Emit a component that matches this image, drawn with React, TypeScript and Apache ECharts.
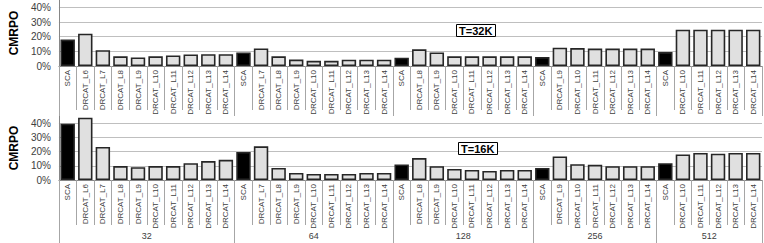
import React, { useEffect, useRef } from 'react';
import * as echarts from 'echarts';

// ---- data ----
const groups = ['32', '64', '128', '256', '512'];

const members32 = ['SCA', 'DRCAT_L6', 'DRCAT_L7', 'DRCAT_L8', 'DRCAT_L9', 'DRCAT_L10', 'DRCAT_L11', 'DRCAT_L12', 'DRCAT_L13', 'DRCAT_L14'];
const members64 = ['SCA', 'DRCAT_L7', 'DRCAT_L8', 'DRCAT_L9', 'DRCAT_L10', 'DRCAT_L11', 'DRCAT_L12', 'DRCAT_L13', 'DRCAT_L14'];
const members128 = ['SCA', 'DRCAT_L8', 'DRCAT_L9', 'DRCAT_L10', 'DRCAT_L11', 'DRCAT_L12', 'DRCAT_L13', 'DRCAT_L14'];
const members256 = ['SCA', 'DRCAT_L9', 'DRCAT_L10', 'DRCAT_L11', 'DRCAT_L12', 'DRCAT_L13', 'DRCAT_L14'];
const members512 = ['SCA', 'DRCAT_L10', 'DRCAT_L11', 'DRCAT_L12', 'DRCAT_L13', 'DRCAT_L14'];

// T=32K (percent)
const t32k_g32 = [18, 22, 10.8, 6.6, 5.8, 6.6, 7.2, 7.9, 8, 8];
const t32k_g64 = [9.2, 12, 6.6, 4.4, 3.5, 3.5, 4.3, 4.3, 4.3];
const t32k_g128 = [5.7, 11.4, 9.2, 6.6, 6.6, 6.6, 6.6, 6.6];
const t32k_g256 = [6.1, 12.5, 12.2, 11.9, 11.9, 11.9, 11.9];
const t32k_g512 = [9.5, 24.8, 24.8, 24.8, 24.8, 24.8];

// T=16K (percent)
const t16k_g32 = [39.6, 43.8, 23.2, 9.8, 9, 9.8, 9.8, 11.8, 13.3, 14.2];
const t16k_g64 = [19.7, 23.7, 8.5, 5, 4.3, 4.3, 4.3, 5, 5];
const t16k_g128 = [10.9, 15.4, 9.7, 7.8, 7.1, 6.4, 7.1, 7.1];
const t16k_g256 = [8.5, 16.6, 11.1, 10.7, 9.7, 9.7, 9.7];
const t16k_g512 = [11.8, 18, 19, 18.5, 19, 19];

const yMax = 45;
const yInterval = 10;
const panelTitles = ['T=32K', 'T=16K'];
const yName = 'CMRPO';

// ---- derived ----
const memberLists = [members32, members64, members128, members256, members512];
const categories = memberLists.flat();
const panels = [
  [t32k_g32, t32k_g64, t32k_g128, t32k_g256, t32k_g512].flat(),
  [t16k_g32, t16k_g64, t16k_g128, t16k_g256, t16k_g512].flat(),
];

// group tier: half-step category axis (2*N + 1 slots, boundaryGap false)
const sizes = memberLists.map((m) => m.length);
const starts: number[] = [];
sizes.reduce((acc, s) => {
  starts.push(acc);
  return acc + s;
}, 0);
const nCat = categories.length;
const groupSlots: string[] = new Array(2 * nCat + 1).fill('');
const boundarySlots = new Set<number>([0, 2 * nCat]);
groups.forEach((g, i) => {
  const s = starts[i];
  const e = s + sizes[i];
  groupSlots[s + e] = g;
  boundarySlots.add(2 * s);
  boundarySlots.add(2 * e);
});

const FONT = "'Liberation Sans Narrow', 'Liberation Sans', sans-serif";
const FONT_MAIN = "'Liberation Sans', Arial, sans-serif";
const LABEL_COLOR = '#404040';

export default function App() {
  const ref = useRef<HTMLDivElement>(null);
  useEffect(() => {
    document.body.style.margin = '0';
    if (!ref.current) return;
    const chart = echarts.init(ref.current, undefined, { renderer: 'svg' });

    const grids = [
      { left: 43, right: 2, top: 0, height: 66 },
      { left: 43, right: 2, top: 116, height: 64 },
    ];

    const xAxes: any[] = [];
    const yAxes: any[] = [];
    const series: any[] = [];

    grids.forEach((_, gi) => {
      const catLen = gi === 0 ? 44 : 45;
      xAxes.push({
        type: 'category',
        gridIndex: gi,
        data: categories.map((c) => ({ value: c, textStyle: { color: LABEL_COLOR } })),
        position: 'bottom',
        axisLine: { show: true, lineStyle: { color: '#868686', width: 1 } },
        axisTick: { show: true, interval: 0, length: catLen, lineStyle: { color: '#a6a6a6' } },
        axisLabel: {
          interval: 0,
          rotate: 90,
          fontSize: 8,
          margin: 4,
          color: LABEL_COLOR,
          fontFamily: FONT,
        },
        splitLine: { show: false },
      });
      xAxes.push({
        type: 'category',
        gridIndex: gi,
        data: groupSlots,
        boundaryGap: false,
        position: 'bottom',
        offset: catLen,
        axisLine: { show: false },
        axisTick: {
          show: true,
          interval: (idx: number) => boundarySlots.has(idx),
          length: gi === 0 ? 6 : 20,
          lineStyle: { color: '#a6a6a6' },
        },
        axisLabel: {
          show: gi === 1,
          interval: (_idx: number, v: string) => v !== '',
          fontSize: 9,
          margin: 6,
          color: LABEL_COLOR,
          fontFamily: FONT_MAIN,
        },
        splitLine: { show: false },
      });
      yAxes.push({
        type: 'value',
        gridIndex: gi,
        min: 0,
        max: yMax,
        interval: yInterval,
        name: yName,
        nameLocation: 'middle',
        nameGap: 25,
        nameTextStyle: { fontSize: 12, fontWeight: 'bold', color: '#000', fontFamily: FONT_MAIN },
        axisLine: { show: true, lineStyle: { color: '#868686' } },
        axisTick: { show: false },
        axisLabel: {
          formatter: '{value}%',
          showMaxLabel: false,
          fontSize: 10,
          margin: 8,
          color: LABEL_COLOR,
          fontFamily: FONT_MAIN,
        },
        splitLine: { show: true, showMaxLine: false, lineStyle: { color: '#bfbfbf', width: 1 } },
      });
      series.push({
        type: 'bar',
        xAxisIndex: gi * 2,
        yAxisIndex: gi,
        barCategoryGap: '18%',
        data: panels[gi].map((v, i) => ({
          value: v,
          itemStyle: { color: categories[i] === 'SCA' ? '#000000' : '#e0e0e0' },
        })),
        itemStyle: { borderColor: '#262626', borderWidth: 1.6 },
      });
    });

    chart.setOption({
      animation: false,
      backgroundColor: '#ffffff',
      grid: grids,
      xAxis: xAxes,
      yAxis: yAxes,
      series,
      title: [
        {
          text: panelTitles[0],
          left: 456,
          top: 24,
          padding: [1, 3],
          borderColor: '#000',
          borderWidth: 1,
          backgroundColor: '#fff',
          textStyle: { fontSize: 11, fontWeight: 'bold', color: '#000', fontFamily: FONT_MAIN, lineHeight: 11 },
        },
        {
          text: panelTitles[1],
          left: 458,
          top: 142,
          padding: [1, 3],
          borderColor: '#000',
          borderWidth: 1,
          backgroundColor: '#fff',
          textStyle: { fontSize: 11, fontWeight: 'bold', color: '#000', fontFamily: FONT_MAIN, lineHeight: 11 },
        },
      ],
    });
    return () => chart.dispose();
  }, []);
  return <div ref={ref} style={{ width: 764, height: 243 }} />;
}
